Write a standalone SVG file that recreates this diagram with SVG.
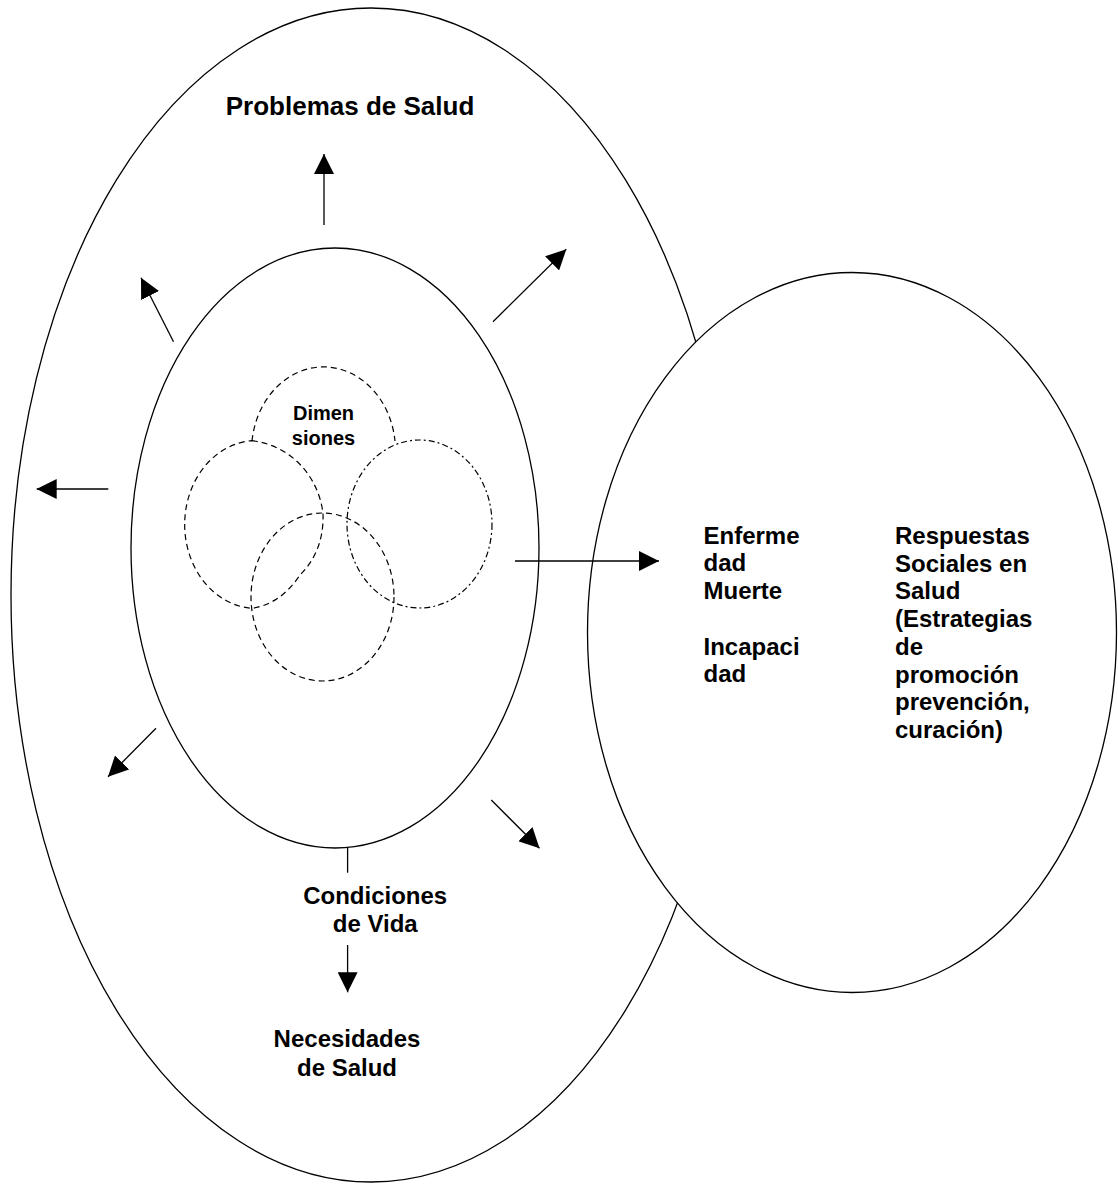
<svg xmlns="http://www.w3.org/2000/svg" width="1118" height="1184" viewBox="0 0 1118 1184">
<style>
.shape{fill:none;stroke:#000;stroke-width:1.3}
.fillw{fill:#fff;stroke:#000;stroke-width:1.3}
.dash{fill:none;stroke:#000;stroke-width:1.2;stroke-dasharray:6 4}
.dashdot{fill:none;stroke:#000;stroke-width:1.2;stroke-dasharray:6 3 2 3}
.conn{fill:none;stroke:#000;stroke-width:1.3}
.lbl{font-family:"Liberation Sans",Arial,Helvetica,sans-serif;font-weight:bold;fill:#000}
</style>
<defs>
<marker id="arr" markerUnits="userSpaceOnUse" markerWidth="20" markerHeight="20" refX="20" refY="10" orient="auto" viewBox="0 0 20 20">
<path d="M0,0 L20,10 L0,20 Z" fill="#000"/>
</marker>
</defs>
<rect width="1118" height="1184" fill="#fff"/>
<g id="problemas-salud">
<ellipse class="shape" cx="371" cy="595" rx="360" ry="587"/>
</g>
<g id="condiciones-vida">
<ellipse class="shape" cx="335" cy="548" rx="204" ry="300"/>
</g>
<g id="dimensiones">
<path class="dash" d="M252,441 A72,84 0 0 1 395,441"/>
<path class="dash" d="M251.7,440.7 C290,445 318,475 323,513 C324,540 315,560 300,575 C290,590 275,605 251.7,608.3 A72,84 0 0 1 251.7,440.7 Z"/>
<ellipse class="dash" cx="322.5" cy="597" rx="71.5" ry="84"/>
<ellipse class="dashdot" cx="419.5" cy="524" rx="72.5" ry="84"/>
</g>
<g id="respuestas">
<ellipse class="fillw" cx="852" cy="632.5" rx="264.5" ry="360"/>
</g>
<g id="connectors">
<line class="conn" x1="324" y1="225" x2="324" y2="154" marker-end="url(#arr)"/>
<line class="conn" x1="173.5" y1="341.7" x2="141" y2="277.7" marker-end="url(#arr)"/>
<line class="conn" x1="493" y1="321.7" x2="566.3" y2="249.3" marker-end="url(#arr)"/>
<line class="conn" x1="108.3" y1="489" x2="36.7" y2="489" marker-end="url(#arr)"/>
<line class="conn" x1="156" y1="728.3" x2="108" y2="776.7" marker-end="url(#arr)"/>
<line class="conn" x1="491.3" y1="800" x2="539.5" y2="848.3" marker-end="url(#arr)"/>
<line class="conn" x1="515" y1="561" x2="659" y2="561" marker-end="url(#arr)"/>
<line class="conn" x1="347.6" y1="848" x2="347.6" y2="872.7"/>
<line class="conn" x1="347.6" y1="945" x2="347.6" y2="992.3" marker-end="url(#arr)"/>
</g>
<g id="labels">
<text class="lbl" x="350" y="115" font-size="26" text-anchor="middle">Problemas de Salud</text>
<text class="lbl" x="323.5" y="420" font-size="20" text-anchor="middle">Dimen</text>
<text class="lbl" x="323.5" y="445" font-size="20" text-anchor="middle">siones</text>
<g font-size="24">
<text class="lbl" x="703.5" y="543.5">Enferme</text>
<text class="lbl" x="703.5" y="571.2">dad</text>
<text class="lbl" x="703.5" y="599">Muerte</text>
<text class="lbl" x="703.5" y="654.5">Incapaci</text>
<text class="lbl" x="703.5" y="682.2">dad</text>
<text class="lbl" x="895" y="544">Respuestas</text>
<text class="lbl" x="895" y="571.7">Sociales en</text>
<text class="lbl" x="895" y="599.4">Salud</text>
<text class="lbl" x="895" y="627.1">(Estrategias</text>
<text class="lbl" x="895" y="654.8">de</text>
<text class="lbl" x="895" y="682.5">promoción</text>
<text class="lbl" x="895" y="710.2">prevención,</text>
<text class="lbl" x="895" y="737.9">curación)</text>
<text class="lbl" x="375.2" y="904" text-anchor="middle">Condiciones</text>
<text class="lbl" x="375.2" y="931.7" text-anchor="middle">de Vida</text>
<text class="lbl" x="347" y="1047.3" text-anchor="middle">Necesidades</text>
<text class="lbl" x="347" y="1075.7" text-anchor="middle">de Salud</text>
</g>
</g>
</svg>
